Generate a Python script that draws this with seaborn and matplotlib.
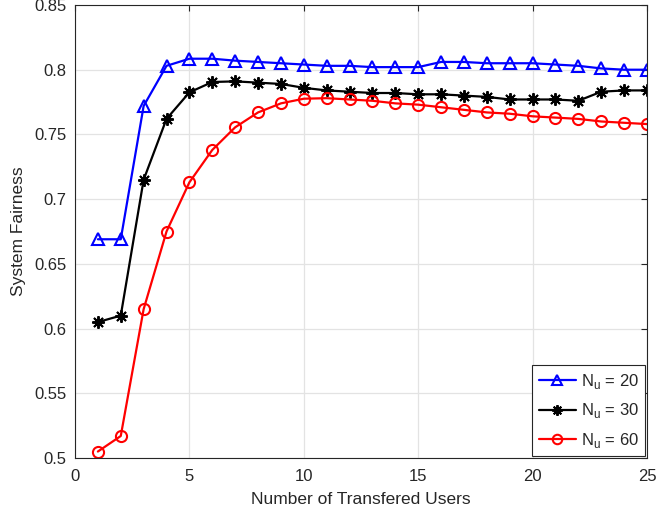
import numpy as np
import pandas as pd
import matplotlib
matplotlib.use("Agg")
import matplotlib.pyplot as plt
import seaborn as sns

users = list(range(1, 26))
fair_nu20 = [0.669, 0.669, 0.772, 0.803, 0.8085, 0.8085, 0.807, 0.806, 0.805, 0.804,
             0.803, 0.803, 0.802, 0.802, 0.802, 0.806, 0.806, 0.805, 0.805, 0.805,
             0.804, 0.803, 0.801, 0.800, 0.800]
fair_nu30 = [0.605, 0.610, 0.715, 0.762, 0.7825, 0.7905, 0.791, 0.790, 0.789, 0.786,
             0.784, 0.783, 0.782, 0.782, 0.781, 0.781, 0.780, 0.779, 0.777, 0.777,
             0.777, 0.776, 0.783, 0.784, 0.784]
fair_nu60 = [0.505, 0.517, 0.615, 0.675, 0.713, 0.738, 0.7555, 0.767, 0.774, 0.7776,
             0.778, 0.777, 0.776, 0.774, 0.773, 0.771, 0.769, 0.767, 0.766, 0.764,
             0.763, 0.762, 0.760, 0.759, 0.758]
labels = [r"N$_\mathregular{u}$ = 20", r"N$_\mathregular{u}$ = 30", r"N$_\mathregular{u}$ = 60"]

sns.set_style("white")
plt.rcParams['font.family'] = ['Liberation Sans', 'DejaVu Sans']
plt.rcParams['mathtext.fontset'] = 'custom'
plt.rcParams['mathtext.rm'] = 'Liberation Sans'

fig = plt.figure(figsize=(6.57, 5.2), dpi=100)
ax = fig.add_axes([75/657, 1 - 458/520, (647-75)/657, (458-5)/520])

asterisk = (8, 2, 0)
series = [(fair_nu20, labels[0], 'blue', '^', 'none', 8, 1.5),
          (fair_nu30, labels[1], 'black', asterisk, 'black', 9, 1.4),
          (fair_nu60, labels[2], 'red', 'o', 'none', 8, 1.5)]
for vals, lab, col, mk, fc, ms, mew in series:
    df = pd.DataFrame({"x": users, "y": vals})
    sns.lineplot(data=df, x="x", y="y", ax=ax, color=col, marker=mk,
                 markerfacecolor=fc, markeredgecolor=col, markersize=ms,
                 markeredgewidth=mew, linewidth=1.6, label=lab)

ax.set_xlim(0, 25)
ax.set_ylim(0.5, 0.85)
ax.set_xticks([0, 5, 10, 15, 20, 25])
ax.set_yticks([0.5, 0.55, 0.6, 0.65, 0.7, 0.75, 0.8, 0.85])
ax.set_yticklabels(['0.5', '0.55', '0.6', '0.65', '0.7', '0.75', '0.8', '0.85'])
ax.grid(True, color='#e3e3e3', linewidth=0.9)
ax.set_axisbelow(True)
for s in ax.spines.values():
    s.set_color('#262626')
    s.set_linewidth(0.8)
ax.tick_params(direction='in', length=4, width=0.8, colors='#262626', labelsize=12,
               top=True, right=True, labelcolor='#262626')
ax.tick_params(axis='x', pad=8)
ax.tick_params(axis='y', pad=6)
ax.set_xlabel("Number of Transfered Users", fontsize=12.5, color='#262626', labelpad=6)
ax.set_ylabel("System Fairness", fontsize=12.5, color='#262626', labelpad=6)

leg = ax.legend(loc='lower right', fontsize=12, frameon=True, fancybox=False,
                edgecolor='#262626', framealpha=1, handlelength=2.2, handletextpad=0.3,
                borderpad=0.4, labelspacing=0.62, borderaxespad=0.1, markerscale=0.85)
leg.get_frame().set_linewidth(0.8)

fig.savefig("out.png", dpi=100)
